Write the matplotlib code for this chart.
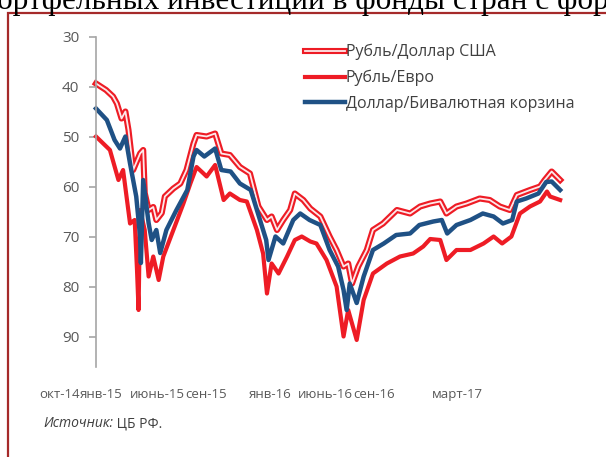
import matplotlib
matplotlib.use("Agg")
import matplotlib.pyplot as plt
import matplotlib.patheffects as pe
from matplotlib.patches import Rectangle

# данные: x - месяцы от начала ряда (окт-2014), y - значения (ось перевёрнута)
dollar_x = [0.0, 0.65, 1.1, 1.35, 1.65, 1.9, 2.1, 2.4, 2.85, 3.05, 3.15, 3.4, 3.7, 3.9,
            4.25, 4.45, 5.0, 5.45, 5.85, 6.3, 6.5, 7.15, 7.7, 8.1, 8.65, 9.3, 9.95, 10.5,
            11.05, 11.35, 11.7, 12.1, 12.55, 12.85, 13.4, 13.85, 14.5, 15.1, 15.55, 16.0,
            16.3, 16.55, 16.95, 17.5, 17.9, 18.55, 19.45, 20.3, 20.95, 21.6, 22.25, 22.65,
            23.3, 23.95, 24.8, 25.45, 26.1, 26.75, 27.2, 28.05, 28.7, 29.0, 29.45, 30.0]
dollar_y = [39.3, 40.6, 41.9, 43.3, 46.3, 44.9, 48.6, 56.6, 53.3, 52.6, 61.2, 64.6, 64.0, 66.6,
            65.2, 61.9, 60.3, 59.3, 56.6, 51.3, 49.6, 49.9, 49.3, 53.3, 53.6, 56.0, 57.3, 63.9,
            66.6, 65.9, 68.6, 66.6, 64.6, 61.3, 62.6, 64.3, 65.9, 69.9, 72.6, 75.9,
            75.3, 79.3, 75.9, 72.6, 68.6, 67.3, 64.6, 65.3, 63.9, 63.3, 62.9, 65.3,
            63.9, 63.3, 62.3, 62.6, 63.9, 64.6, 61.6, 60.6, 59.9, 58.6, 56.9, 58.6]

euro_x = [0.0, 0.9, 1.45, 1.75, 2.2, 2.5, 2.65, 2.75, 2.85, 3.15, 3.4, 3.7, 4.05, 4.35,
          5.0, 5.65, 6.1, 6.5, 6.95, 7.15, 7.7, 8.25, 8.65, 9.3, 9.75, 10.4, 10.8, 11.05,
          11.35, 11.8, 12.35, 12.85, 13.3, 13.85, 14.25, 14.9, 15.55, 16.0, 16.3, 16.85,
          17.3, 17.9, 18.8, 19.65, 20.5, 21.15, 21.6, 22.25, 22.65, 23.3, 24.2, 25.05,
          25.7, 26.25, 26.85, 27.4, 28.05, 28.7, 29.15, 29.35, 30.0]
euro_y = [49.9, 52.6, 58.6, 56.6, 67.3, 66.6, 76.6, 84.6, 64.6, 68.6, 77.9, 73.9, 78.6, 73.9,
          68.6, 63.3, 59.3, 56.0, 57.3, 57.9, 55.6, 62.6, 61.3, 62.6, 62.9, 68.6, 73.3, 81.3,
          75.3, 77.3, 73.9, 70.6, 69.9, 70.9, 71.3, 74.6, 79.9, 89.9, 84.6, 90.6,
          82.6, 77.3, 75.3, 73.9, 73.3, 71.9, 70.4, 70.6, 74.6, 72.6, 72.6, 71.3,
          69.9, 71.3, 69.9, 65.3, 63.9, 62.9, 60.9, 61.9, 62.6]

basket_x = [0.0, 0.7, 1.2, 1.55, 1.9, 2.2, 2.6, 2.85, 2.9, 3.05, 3.4, 3.6, 3.9, 4.15,
            4.55, 5.2, 5.9, 6.3, 6.5, 7.0, 7.7, 8.1, 8.7, 9.3, 10.0, 10.6, 11.0, 11.15,
            11.6, 12.1, 12.75, 13.2, 13.8, 14.5, 15.1, 15.65, 16.0, 16.2, 16.4, 16.85,
            17.3, 17.9, 18.6, 19.4, 20.3, 20.9, 21.8, 22.35, 22.7, 23.3, 24.2, 25.0,
            25.7, 26.3, 26.9, 27.2, 27.8, 28.6, 29.1, 29.45, 30.0]
basket_y = [44.3, 46.6, 50.6, 52.3, 49.9, 55.3, 61.9, 69.9, 75.2, 58.6, 67.2, 70.6, 68.6, 73.2,
            68.6, 64.6, 60.6, 53.9, 52.6, 53.9, 52.3, 56.6, 56.9, 59.3, 60.6, 66.6, 70.6, 74.6,
            69.9, 71.3, 66.6, 65.3, 66.6, 67.6, 72.6, 75.9, 80.6, 84.6, 79.3, 83.2,
            77.9, 72.6, 71.3, 69.6, 69.3, 67.6, 66.9, 66.6, 69.3, 67.6, 66.6, 65.3,
            65.9, 67.3, 66.6, 62.9, 62.3, 61.3, 59.0, 58.9, 60.6]

tick_pos = [-2.33, 0.32, 3.94, 7.11, 11.25, 14.8, 17.97, 23.34]
tick_labels = ['окт-14', 'янв-15', 'июнь-15', 'сен-15', 'янв-16', 'июнь-16', 'сен-16', 'март-17']
y_ticks = [30, 40, 50, 60, 70, 80, 90]

RED = '#ee1c25'
BLUE = '#1f5185'
GRAY = '#595959'
FONT = ['Open Sans', 'DejaVu Sans']

plt.rcParams['font.family'] = FONT

W, H = 606, 457
fig = plt.figure(figsize=(W / 100, H / 100), dpi=100)

# красная рамка вокруг графика
fig.patches.append(Rectangle((8 / W, -0.5), 2, 1.5 - 13 / H, transform=fig.transFigure,
                             fill=False, edgecolor='#a52a2a', lw=1.6, zorder=0))
# обрезанная строка заголовка сверху (как на исходной картинке)
fig.text(-3 / W, 1 - 9 / H, 'ортфельных инвестиций в фонды стран с фор',
         family=['Liberation Serif', 'DejaVu Serif'], fontsize=22.5, va='baseline', ha='left')

ax = fig.add_axes([40 / W, 1 - 367 / H, 535 / W, 330 / H])
ax.set_xlim(-3.62, 30.96)
ax.set_ylim(96, 30)

ax.plot(dollar_x, dollar_y, color='#fde8ea', lw=1.3, label='Рубль/Доллар США',
        path_effects=[pe.Stroke(linewidth=4.4, foreground=RED), pe.Normal()])
ax.plot(euro_x, euro_y, color=RED, lw=3.0, label='Рубль/Евро')
ax.plot(basket_x, basket_y, color=BLUE, lw=3.2, label='Доллар/Бивалютная корзина')

for s in ['top', 'right', 'bottom']:
    ax.spines[s].set_visible(False)
ax.spines['left'].set_position(('data', 0))
ax.spines['left'].set_color('#a6a6a6')
ax.spines['left'].set_linewidth(1.2)

ax.set_yticks(y_ticks)
ax.tick_params(axis='y', length=5, width=1.2, color='#a6a6a6', pad=7, labelsize=11,
               labelcolor=GRAY)
ax.set_xticks(tick_pos)
ax.set_xticklabels(tick_labels)
ax.tick_params(axis='x', length=0, pad=15, labelsize=9.5, labelcolor=GRAY)

leg = ax.legend(loc='upper left', bbox_to_anchor=(305 / W, 1 - 44 / H),
                bbox_transform=fig.transFigure, frameon=False, fontsize=11.5,
                handlelength=2.5, handletextpad=0.05, labelspacing=0.6,
                borderpad=0, borderaxespad=0)
for t in leg.get_texts():
    t.set_color('#404040')

# источник
src = fig.text(43 / W, 1 - 431 / H, 'Источник:', style='italic', fontsize=10,
               color='#404040', va='bottom')
ax.annotate(' ЦБ РФ.', xy=(1, 0), xycoords=src, fontsize=10, color='#404040',
            va='bottom', ha='left', annotation_clip=False)

plt.savefig('out.png', dpi=100)
